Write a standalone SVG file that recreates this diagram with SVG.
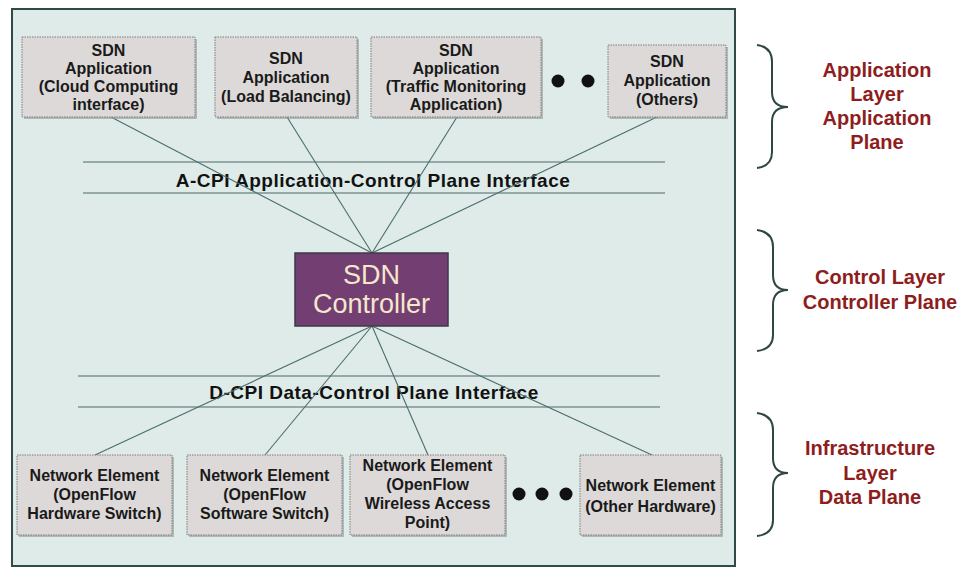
<svg xmlns="http://www.w3.org/2000/svg" width="963" height="569" viewBox="0 0 963 569">
  <defs>
    <style>
      .panel { fill: #deebe8; stroke: #2f4a48; stroke-width: 2; }
      .box { fill: #dcd9d8; stroke: #7d7d7d; stroke-width: 1; stroke-dasharray: 1.5 1; }
      .shadow { fill: #8f9997; opacity: 0.6; }
      .btxt { font-family: "Liberation Sans", Arial, sans-serif; font-weight: bold; font-size: 16px; fill: #1a1a1a; text-anchor: middle; }
      .iface { font-family: "Liberation Sans", Arial, sans-serif; font-weight: bold; font-size: 19px; letter-spacing: 0.5px; fill: #111; text-anchor: middle; }
      .rule { stroke: #4d6b69; stroke-width: 1.2; }
      .conn { stroke: #4a6e6c; stroke-width: 1.1; fill: none; }
      .ctrl { fill: #733f72; stroke: #3a3a4a; stroke-width: 1.5; }
      .ctxt { font-family: "Liberation Sans", Arial, sans-serif; font-size: 27px; fill: #f4e8cc; text-anchor: middle; }
      .brace { fill: none; stroke: #2e4644; stroke-width: 2; }
      .ltxt { font-family: "Liberation Sans", Arial, sans-serif; font-weight: bold; font-size: 20px; fill: #8e1d1d; text-anchor: middle; }
      .dot { fill: #111; }
    </style>
  </defs>

  <rect width="963" height="569" fill="#ffffff"/>

  <!-- main panel -->
  <rect class="panel" x="12" y="9" width="723" height="557"/>

  <!-- interface bands -->
  <g id="a-cpi">
    <line class="rule" x1="83" y1="162" x2="665" y2="162"/>
    <line class="rule" x1="83" y1="193" x2="665" y2="193"/>
    <text class="iface" x="373" y="187">A-CPI Application-Control Plane Interface</text>
  </g>
  <g id="d-cpi">
    <line class="rule" x1="78" y1="376" x2="660" y2="376"/>
    <line class="rule" x1="78" y1="407" x2="660" y2="407"/>
    <text class="iface" x="374" y="399">D-CPI Data-Control Plane Interface</text>
  </g>

  <!-- connectors -->
  <g id="connectors">
    <line class="conn" x1="111" y1="117" x2="372" y2="253"/>
    <line class="conn" x1="287" y1="117" x2="372" y2="253"/>
    <line class="conn" x1="457" y1="117" x2="372" y2="253"/>
    <line class="conn" x1="657" y1="117" x2="372" y2="253"/>
    <line class="conn" x1="372" y1="326" x2="95" y2="455"/>
    <line class="conn" x1="372" y1="326" x2="265" y2="455"/>
    <line class="conn" x1="372" y1="326" x2="428" y2="455"/>
    <line class="conn" x1="372" y1="326" x2="652" y2="455"/>
  </g>

  <!-- application plane -->
  <g id="app-cloud">
    <rect class="shadow" x="24" y="39" width="173" height="80"/>
    <rect class="box" x="22" y="37" width="173" height="80"/>
    <text class="btxt" x="108.5" y="56">SDN</text>
    <text class="btxt" x="108.5" y="74">Application</text>
    <text class="btxt" x="108.5" y="92">(Cloud Computing</text>
    <text class="btxt" x="108.5" y="110">interface)</text>
  </g>
  <g id="app-lb">
    <rect class="shadow" x="217" y="39" width="142" height="80"/>
    <rect class="box" x="215" y="37" width="142" height="80"/>
    <text class="btxt" x="286" y="64">SDN</text>
    <text class="btxt" x="286" y="83">Application</text>
    <text class="btxt" x="286" y="102">(Load Balancing)</text>
  </g>
  <g id="app-traffic">
    <rect class="shadow" x="373" y="39" width="170" height="80"/>
    <rect class="box" x="371" y="37" width="170" height="80"/>
    <text class="btxt" x="456" y="56">SDN</text>
    <text class="btxt" x="456" y="74">Application</text>
    <text class="btxt" x="456" y="92">(Traffic Monitoring</text>
    <text class="btxt" x="456" y="110">Application)</text>
  </g>
  <g id="app-dots">
    <circle class="dot" cx="558" cy="81" r="6.5"/>
    <circle class="dot" cx="588" cy="81" r="6.5"/>
  </g>
  <g id="app-others">
    <rect class="shadow" x="610" y="47" width="118" height="72"/>
    <rect class="box" x="608" y="45" width="118" height="72"/>
    <text class="btxt" x="667" y="67">SDN</text>
    <text class="btxt" x="667" y="86">Application</text>
    <text class="btxt" x="667" y="105">(Others)</text>
  </g>

  <!-- controller -->
  <g id="controller">
    <rect class="ctrl" x="295" y="253" width="153" height="73"/>
    <text class="ctxt" x="371.5" y="284">SDN</text>
    <text class="ctxt" x="371.5" y="313">Controller</text>
  </g>

  <!-- data plane -->
  <g id="ne-hw">
    <rect class="shadow" x="19" y="457" width="155" height="80"/>
    <rect class="box" x="17" y="455" width="155" height="80"/>
    <text class="btxt" x="94.5" y="481">Network Element</text>
    <text class="btxt" x="94.5" y="500">(OpenFlow</text>
    <text class="btxt" x="94.5" y="519">Hardware Switch)</text>
  </g>
  <g id="ne-sw">
    <rect class="shadow" x="189" y="457" width="155" height="80"/>
    <rect class="box" x="187" y="455" width="155" height="80"/>
    <text class="btxt" x="264.5" y="481">Network Element</text>
    <text class="btxt" x="264.5" y="500">(OpenFlow</text>
    <text class="btxt" x="264.5" y="519">Software Switch)</text>
  </g>
  <g id="ne-wap">
    <rect class="shadow" x="352" y="457" width="155" height="80"/>
    <rect class="box" x="350" y="455" width="155" height="80"/>
    <text class="btxt" x="427.5" y="471">Network Element</text>
    <text class="btxt" x="427.5" y="490">(OpenFlow</text>
    <text class="btxt" x="427.5" y="509">Wireless Access</text>
    <text class="btxt" x="427.5" y="528">Point)</text>
  </g>
  <g id="ne-dots">
    <circle class="dot" cx="519" cy="494" r="6.5"/>
    <circle class="dot" cx="542" cy="494" r="6.5"/>
    <circle class="dot" cx="566" cy="494" r="6.5"/>
  </g>
  <g id="ne-other">
    <rect class="shadow" x="582" y="457" width="141" height="80"/>
    <rect class="box" x="580" y="455" width="141" height="80"/>
    <text class="btxt" x="650.5" y="491">Network Element</text>
    <text class="btxt" x="650.5" y="512">(Other Hardware)</text>
  </g>

  <!-- layer braces and labels -->
  <g id="layer-application">
    <path class="brace" d="M757 45 Q772 47 772 62 L772 92 Q772 107 788 107 Q772 107 772 122 L772 152 Q772 166 757 168"/>
    <text class="ltxt" x="877" y="77">Application</text>
    <text class="ltxt" x="877" y="101">Layer</text>
    <text class="ltxt" x="877" y="125">Application</text>
    <text class="ltxt" x="877" y="149">Plane</text>
  </g>
  <g id="layer-control">
    <path class="brace" d="M757 230 Q773 232 773 247 L773 275 Q773 290 788 290 Q773 290 773 305 L773 335 Q773 349 757 351"/>
    <text class="ltxt" x="880" y="284">Control Layer</text>
    <text class="ltxt" x="880" y="309">Controller Plane</text>
  </g>
  <g id="layer-infrastructure">
    <path class="brace" d="M757 413 Q773 415 773 430 L773 458 Q773 473 788 473 Q773 473 773 488 L773 520 Q773 534 757 536"/>
    <text class="ltxt" x="870" y="455">Infrastructure</text>
    <text class="ltxt" x="870" y="480">Layer</text>
    <text class="ltxt" x="870" y="504">Data Plane</text>
  </g>
</svg>
